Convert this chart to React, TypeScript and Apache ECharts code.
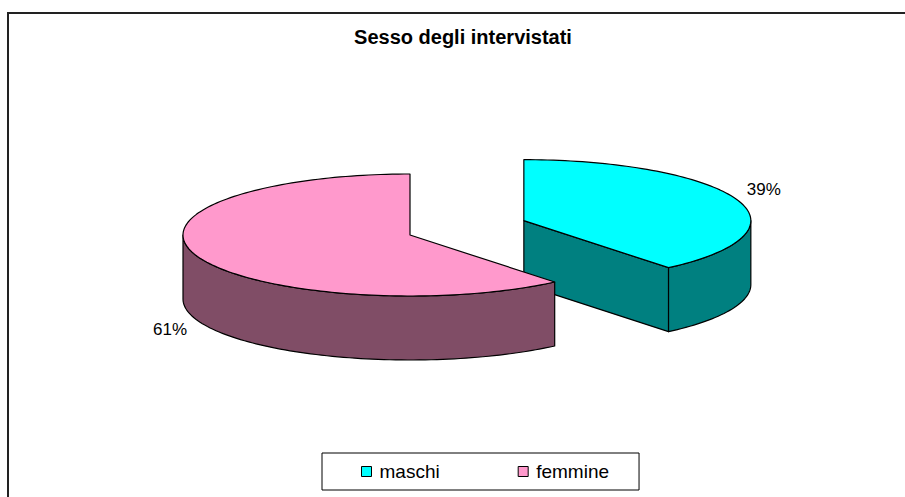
import React, { useEffect, useRef } from "react";
import * as echarts from "echarts";

const categories = ["maschi", "femmine"];
const values = [39, 61];
const topColors = ["#00FFFF", "#FF99CC"];
const sideColors = ["#008080", "#804D66"];
const explodeDist = [121, 0];

const CX = 410;
const CY = 235;
const RX = 227;
const RY = 61;
const DEPTH = 64;
const FONT = "'Liberation Sans', Arial, sans-serif";

const total = values.reduce((a, b) => a + b, 0);
const rad = (d: number) => (d * Math.PI) / 180;

function sliceAngles(i: number) {
  let cum = 0;
  for (let k = 0; k < i; k++) cum += values[k];
  const a0 = 90 - (360 * cum) / total;
  const a1 = 90 - (360 * (cum + values[i])) / total;
  return { a0, a1 };
}

function renderSlice(i: number) {
  const { a0, a1 } = sliceAngles(i);
  const mid = (a0 + a1) / 2;
  const cx = CX + explodeDist[i] * Math.cos(rad(mid));
  const cy = CY - explodeDist[i] * Math.sin(rad(mid)) * 0.35;
  const P = (a: number, dz = 0): number[] => [
    cx + RX * Math.cos(rad(a)),
    cy - RY * Math.sin(rad(a)) + dz,
  ];
  const arc = (from: number, to: number, dz = 0) => {
    const pts: number[][] = [];
    const n = Math.max(2, Math.ceil(Math.abs(to - from) / 1.5));
    for (let k = 0; k <= n; k++) pts.push(P(from + ((to - from) * k) / n, dz));
    return pts;
  };
  const stroke = { stroke: "#000", lineWidth: 1.2, lineJoin: "round" };
  const children: any[] = [];
  // radial faces
  const radial = (a: number) => {
    const t = P(a);
    const b = P(a, DEPTH);
    children.push({
      type: "polygon",
      shape: { points: [[cx, cy], t, b, [cx, cy + DEPTH]] },
      style: { fill: sideColors[i], ...stroke },
    });
  };
  if (Math.cos(rad(a0)) < -1e-6) radial(a0);
  if (Math.cos(rad(a1)) > 1e-6) radial(a1);
  // outer wall visible part (angles within [-180, 0] modulo 360)
  for (const shift of [0, -360, 360]) {
    const lo = Math.max(a1, -180 + shift);
    const hi = Math.min(a0, 0 + shift);
    if (hi - lo > 0.01) {
      const top = arc(hi, lo);
      const bot = arc(lo, hi, DEPTH);
      children.push({
        type: "polygon",
        shape: { points: [...top, ...bot] },
        style: { fill: sideColors[i], ...stroke },
      });
    }
  }
  // top face
  children.push({
    type: "polygon",
    shape: { points: [[cx, cy], ...arc(a0, a1)] },
    style: { fill: topColors[i], ...stroke },
  });
  // label
  const pct = Math.round((values[i] / total) * 100) + "%";
  const s = Math.sin(rad(mid));
  children.push({
    type: "text",
    style: {
      text: pct,
      x: cx + (RX + 28) * Math.cos(rad(mid)),
      y: cy - (RY + 30) * s + (s < 0 ? DEPTH : 0),
      align: "center",
      verticalAlign: "middle",
      fill: "#000",
      font: `17px ${FONT}`,
    },
  });
  return { type: "group", children };
}

export default function App() {
  const ref = useRef<HTMLDivElement>(null);
  useEffect(() => {
    if (!ref.current) return;
    const chart = echarts.init(ref.current, undefined, { renderer: "svg" });
    chart.setOption({
      animation: false,
      backgroundColor: "#fff",
      title: {
        text: "Sesso degli intervistati",
        left: 463,
        top: 27,
        padding: 0,
        textAlign: "center",
        textStyle: { fontSize: 20, fontWeight: "bold", color: "#000", fontFamily: FONT },
      },
      legend: {
        data: categories,
        left: 322,
        top: 453,
        orient: "horizontal",
        icon: "rect",
        itemWidth: 10,
        itemHeight: 10,
        itemGap: 78,
        borderColor: "#000",
        borderWidth: 1,
        padding: [8, 30, 8, 39],
        itemStyle: { borderColor: "#000", borderWidth: 1 },
        textStyle: { fontSize: 19, color: "#000", fontFamily: FONT, lineHeight: 21, padding: [0, 0, 0, 3] },
      },
      graphic: [
        {
          type: "rect",
          shape: { x: 8, y: 13, width: 1200, height: 1200 },
          style: { fill: "none", stroke: "#222", lineWidth: 2 },
          silent: true,
        },
      ],
      series: categories.map((name, i) => ({
        type: "custom",
        name,
        coordinateSystem: "none",
        itemStyle: { color: topColors[i] },
        data: [values[i]],
        renderItem: () => renderSlice(i),
      })),
    });
    return () => chart.dispose();
  }, []);
  return (
    <div
      ref={ref}
      style={{ position: "absolute", left: 0, top: 0, width: 905, height: 497 }}
    />
  );
}
